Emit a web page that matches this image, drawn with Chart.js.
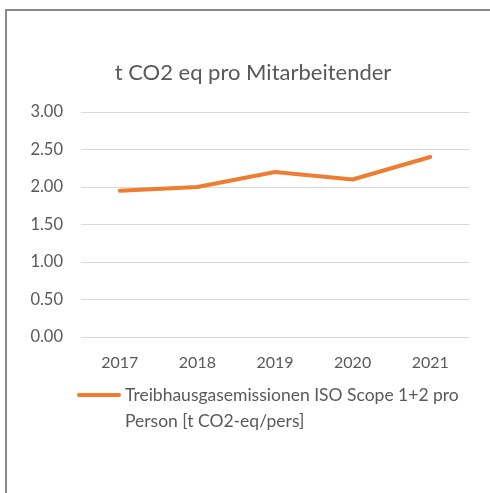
<!DOCTYPE html>
<html>
<head>
<meta charset="utf-8">
<script src="https://cdn.jsdelivr.net/npm/chart.js@4"></script>
<style>
html,body{margin:0;padding:0;background:#fff;}
#wrap{position:relative;width:490px;height:493px;}
</style>
</head>
<body>
<div id="wrap"><canvas id="c" width="490" height="493"></canvas></div>
<script>
const categories = ['2017', '2018', '2019', '2020', '2021'];
const emissionsPerPerson = [1.95, 2.0, 2.2, 2.1, 2.4];
const seriesLabel = ['Treibhausgasemissionen ISO Scope 1+2 pro', 'Person [t CO2-eq/pers]'];
const chartTitle = 't CO2 eq pro Mitarbeitender';
const yTicks = [0, 0.5, 1, 1.5, 2, 2.5, 3];

const FONT = 'Lato, "Open Sans", sans-serif';
const TEXT = '#595959';

const frame = {
  id: 'frame',
  beforeDraw(chart) {
    const ctx = chart.ctx;
    ctx.save();
    ctx.fillStyle = '#fff';
    ctx.fillRect(0, 0, chart.width, chart.height);
    ctx.strokeStyle = '#8a8a8a';
    ctx.lineWidth = 2;
    ctx.beginPath();
    ctx.moveTo(6, chart.height);
    ctx.lineTo(6, 10);
    ctx.lineTo(chart.width, 10);
    ctx.stroke();
    ctx.restore();
  }
};

const titleAndLegend = {
  id: 'titleAndLegend',
  afterDraw(chart) {
    const ctx = chart.ctx;
    const ca = chart.chartArea;
    ctx.save();
    // title
    ctx.fillStyle = TEXT;
    ctx.font = '22px ' + FONT;
    ctx.textAlign = 'center';
    ctx.textBaseline = 'middle';
    ctx.fillText(chartTitle, 253, ca.top - 39);
    // legend
    const ds = chart.data.datasets[0];
    const y0 = ca.bottom + 58;
    ctx.strokeStyle = ds.borderColor;
    ctx.lineWidth = 4;
    ctx.lineCap = 'round';
    ctx.beginPath();
    ctx.moveTo(79, y0);
    ctx.lineTo(119, y0);
    ctx.stroke();
    ctx.font = '17.5px ' + FONT;
    ctx.textAlign = 'left';
    ds.label.forEach((t, i) => ctx.fillText(t, 125, y0 + i * 26));
    ctx.restore();
  }
};

new Chart(document.getElementById('c'), {
  type: 'line',
  data: {
    labels: categories,
    datasets: [{
      label: seriesLabel,
      data: emissionsPerPerson,
      borderColor: '#ED7D31',
      backgroundColor: '#ED7D31',
      borderWidth: 4,
      pointRadius: 0,
      tension: 0,
      borderCapStyle: 'round',
      borderJoinStyle: 'round'
    }]
  },
  options: {
    responsive: false,
    animation: false,
    devicePixelRatio: 1,
    layout: { padding: { top: 112, right: 21, bottom: 116, left: 0 } },
    plugins: {
      legend: { display: false },
      tooltip: { enabled: false },
      title: { display: false }
    },
    scales: {
      x: {
        offset: true,
        grid: { display: false, drawTicks: false },
        border: { display: false },
        afterFit(scale) { scale.height = 40; },
        ticks: { color: TEXT, font: { family: FONT, size: 16 }, padding: 16, maxRotation: 0 }
      },
      y: {
        min: 0,
        max: 3,
        afterBuildTicks(scale) { scale.ticks = yTicks.map(v => ({ value: v })); },
        afterFit(scale) { scale.width = 81; },
        grid: { color: '#d9d9d9', lineWidth: 1, drawTicks: false },
        border: { display: false },
        ticks: {
          color: TEXT,
          font: { family: FONT, size: 16.5 },
          padding: 18,
          callback: v => v.toFixed(2)
        }
      }
    }
  },
  plugins: [frame, titleAndLegend]
});
</script>
</body>
</html>
